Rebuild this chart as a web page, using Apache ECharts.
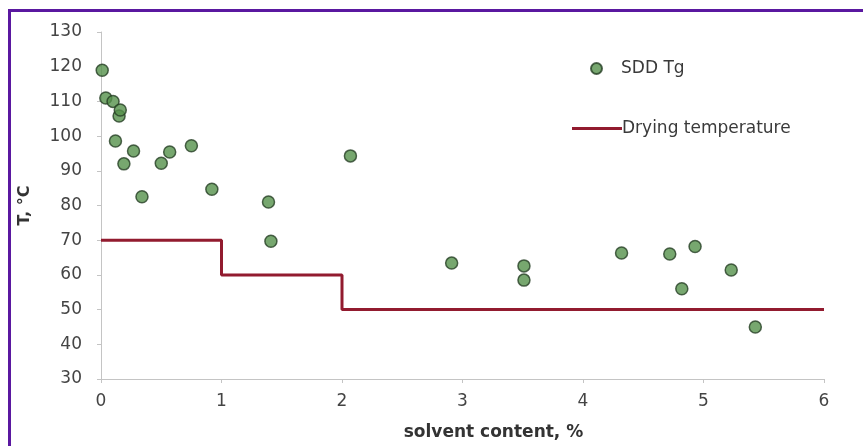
<!DOCTYPE html>
<html>
<head>
<meta charset="utf-8">
<script src="https://cdn.jsdelivr.net/npm/echarts@6/dist/echarts.min.js"></script>
<style>
  html, body { margin: 0; padding: 0; background: #fff; }
  #chart { width: 863px; height: 446px; }
</style>
</head>
<body>
<div id="chart"></div>
<script>
// SDD Tg measurements (solvent content %, Tg in °C)
var tgContent = [0.01, 0.04, 0.10, 0.15, 0.16, 0.12, 0.27, 0.19, 0.34, 0.50, 0.57, 0.75, 0.92, 1.39, 1.41, 2.07, 2.91, 3.51, 3.51, 4.32, 4.72, 4.93, 4.82, 5.23, 5.43]
var tgValues = [119, 111, 110, 105.8, 107.5, 98.6, 95.7, 92, 82.5, 92.2, 95.4, 97.2, 84.7, 81, 69.7, 94.3, 63.4, 62.6, 58.5, 66.3, 66, 68.2, 56, 61.4, 45]

// drying temperature steps
var dryContent = [0, 1, 2, 6]
var dryTemp = [70, 60, 50, 50]

var xTicks = [0, 1, 2, 3, 4, 5, 6]
var yTicks = [30, 40, 50, 60, 70, 80, 90, 100, 110, 120, 130]

var chart = echarts.init(document.getElementById('chart'))

var labelFont = {
  fontFamily: 'DejaVu Sans',
  fontSize: 17,
  color: '#444'
}

chart.setOption({
  animation: false,
  backgroundColor: '#fff',
  graphic: [
    // purple frame of the original figure (top and left edges)
    {type: 'rect', shape: {x: 8, y: 9, width: 855, height: 3}, style: {fill: '#5a18a0'}},
    {type: 'rect', shape: {x: 8, y: 9, width: 3, height: 437}, style: {fill: '#5a18a0'}}
  ],
  grid: {
    left: 101,
    right: 39,
    top: 32,
    bottom: 66
  },
  legend: [
    {
      data: ['SDD Tg'],
      left: 590,
      top: 60,
      padding: 0,
      itemWidth: 11,
      itemHeight: 11,
      textStyle: {fontFamily: 'DejaVu Sans', fontSize: 17, color: '#3a3a3a', padding: [0, 0, 0, 14]}
    },
    {
      data: [{name: 'Drying temperature', icon: 'rect'}],
      left: 572,
      top: 120,
      padding: 0,
      itemWidth: 50,
      itemHeight: 3,
      textStyle: {fontFamily: 'DejaVu Sans', fontSize: 17, color: '#3a3a3a', padding: [0, 0, 0, -5]}
    }
  ],
  xAxis: {
    type: 'value',
    min: 0,
    max: 6,
    interval: 1,
    name: 'solvent content, %',
    nameLocation: 'middle',
    nameGap: 45,
    nameTextStyle: {
      fontFamily: 'DejaVu Sans',
      fontWeight: 'bold',
      fontSize: 17,
      color: '#333',
      padding: [0, 0, 0, 62]
    },
    splitLine: {show: false},
    axisLine: {lineStyle: {color: '#c4c4c4', width: 1}},
    axisTick: {show: true, length: 4, lineStyle: {color: '#c4c4c4'}},
    axisLabel: Object.assign({margin: 14, formatter: function (v) {
      return xTicks.indexOf(v) >= 0 ? String(v) : ''
    }}, labelFont)
  },
  yAxis: {
    type: 'value',
    min: 30,
    max: 130,
    interval: 10,
    name: 'T, °C',
    nameLocation: 'middle',
    nameGap: 68,
    nameTextStyle: {
      fontFamily: 'DejaVu Sans',
      fontWeight: 'bold',
      fontSize: 16,
      color: '#333'
    },
    splitLine: {show: false},
    axisLine: {show: true, lineStyle: {color: '#c4c4c4', width: 1}},
    axisTick: {show: true, length: 4, lineStyle: {color: '#c4c4c4'}},
    axisLabel: Object.assign({margin: 19, formatter: function (v) {
      return yTicks.indexOf(v) >= 0 ? String(v) : ''
    }}, labelFont)
  },
  series: [
    {
      name: 'Drying temperature',
      type: 'line',
      step: 'end',
      symbol: 'none',
      showSymbol: false,
      data: dryContent.map(function (x, i) { return [x, dryTemp[i]] }),
      lineStyle: {color: '#921b2f', width: 3},
      itemStyle: {color: '#921b2f'},
      z: 2
    },
    {
      name: 'SDD Tg',
      type: 'scatter',
      symbol: 'circle',
      symbolSize: 12,
      data: tgContent.map(function (x, i) { return [x, tgValues[i]] }),
      itemStyle: {
        color: '#55914b',
        borderColor: '#263f24',
        borderWidth: 1.5
      },
      z: 3
    }
  ]
})
</script>
</body>
</html>
